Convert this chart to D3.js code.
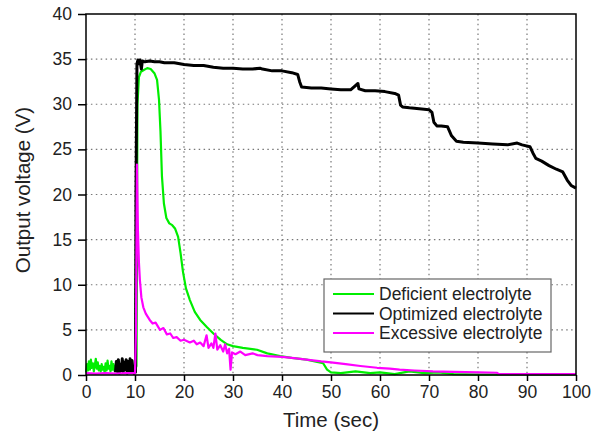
<!DOCTYPE html>
<html lang="en">
  <head>
    <meta charset="utf-8" />
    <title>Output voltage vs time</title>
    <script src="https://d3js.org/d3.v7.min.js"></script>
    <style>
      body { margin: 0; background: #fff; }
      .axis text { font-family: "Liberation Sans", Arial, sans-serif; font-size: 17.5px; fill: #222; }
      .axis path, .axis line { stroke: #000; stroke-width: 1.5px; }
      .grid line { stroke: #777; stroke-width: 1.2px; stroke-dasharray: 1.5,3.4; }
    </style>
  </head>
  <body>
    <script>
      // [time (sec), voltage (V)]
      const deficient = [
        [0,0.3],[0.2,1.2],[0.4,0.5],[0.6,1.5],[0.8,0.6],[1.0,1.7],[1.2,0.8],[1.4,1.3],[1.6,0.4],
        [1.8,1.1],[2.0,1.8],[2.2,0.7],[2.4,1.4],[2.6,0.5],[2.8,1.0],[3.0,0.4],[3.2,1.2],[3.4,0.6],
        [3.6,0.9],[3.8,0.3],[4.0,1.3],[4.2,0.5],[4.4,1.6],[4.6,0.7],[4.8,1.0],[5.0,0.4],[5.2,1.5],
        [5.4,0.6],[5.6,1.2],[5.8,0.5],[6.0,1.0],[6.2,0.4],[7,0.8],[8,1.0],[9,0.6],[10,0.5],
        [10.3,1.0],[10.5,30],[10.8,33.0],[11.2,33.6],[11.8,33.8],[12.5,34.0],[13.2,33.9],[14.0,33.4],
        [14.5,32.7],[14.9,30.5],[15.2,27],[15.5,22],[15.9,19],[16.4,17.4],[17.0,16.8],[17.6,16.6],
        [18.2,16.2],[18.8,15.3],[19.3,13.5],[19.8,11.4],[20.4,9.6],[21.2,8.3],[22.2,7.0],[23.3,6.1],
        [24.7,5.3],[26,4.6],[27.5,3.9],[28.8,3.4],[30,3.2],[32,3.0],[34.9,2.8],[37,2.4],[39.6,2.1],
        [42,1.9],[45,1.7],[48.4,1.3],[49.2,0.6],[50,0.3],[52,0.2],[55,0.4],[58,0.2],[60,0.3],
        [63,0.1],[66,0.4],[69,0.2],[72,0.3],[75,0.1],[80,0.05],[90,0.05],[100,0.05]
      ];
      const optimized = [
        [6.0,0.3],[6.2,1.5],[6.4,0.4],[6.6,1.7],[6.8,0.2],[7.0,1.2],[7.2,0.5],[7.4,1.8],[7.6,0.3],
        [7.8,1.4],[8.0,0.6],[8.2,1.7],[8.4,0.2],[8.6,1.5],[8.8,0.5],[9.0,1.8],[9.2,0.3],[9.4,1.6],
        [9.6,0.4],[9.8,0.2],[10.1,0.3],[10.2,20],[10.4,34.5],[10.6,34.9],[10.8,34.5],[11,34.9],
        [11.3,33.9],[11.5,34.8],[12,34.7],[13,34.8],[14,34.7],[15,34.7],[16,34.6],[18,34.6],
        [20,34.4],[22,34.3],[24,34.3],[26,34.1],[28,34.0],[30,34.0],[32,33.9],[34,33.9],[35.5,34.0],
        [36,33.9],[38,33.7],[40,33.7],[42,33.5],[43.2,33.3],[43.6,32.5],[44,31.9],[46,31.8],
        [48,31.8],[50,31.7],[52,31.6],[54,31.6],[55.5,32.3],[55.7,31.7],[57,31.5],[59,31.5],
        [61,31.4],[63,31.2],[63.8,31.0],[64.2,29.9],[64.6,29.7],[66,29.6],[68,29.5],[70,29.4],
        [70.6,29.1],[71.0,28.0],[71.6,27.6],[72.5,27.6],[73.8,27.5],[74.6,26.5],[75.6,25.9],
        [77,25.8],[80,25.7],[83,25.6],[86,25.5],[88,25.7],[89,25.5],[90.6,25.3],[91.2,24.6],
        [91.8,24.0],[93,23.7],[94.5,23.2],[96,22.8],[97.3,22.5],[98.2,21.6],[99,21.0],[100,20.7]
      ];
      const excessive = [
        [0,0.2],[2,0.15],[4,0.2],[6,0.15],[8,0.2],[10,0.2],[10.2,5],[10.4,23.3],[10.6,16],
        [10.8,12.5],[11.0,10.5],[11.3,8.6],[11.7,7.5],[12.2,6.8],[13,6.1],[13.6,5.7],[14.2,5.8],
        [15.1,5.0],[15.8,5.2],[16.5,4.5],[17.2,4.6],[17.8,4.1],[18.5,4.2],[19.3,3.8],[20,3.9],
        [21.2,3.6],[22,3.8],[22.6,3.4],[23.3,3.6],[24,3.2],[24.6,4.4],[25,3.0],[25.6,3.5],[26,3.0],
        [26.4,4.6],[26.8,2.8],[27.4,3.3],[28,2.6],[28.4,3.4],[28.8,2.4],[29.2,2.9],[29.5,0.6],
        [29.8,2.5],[30.5,2.3],[31.5,2.6],[32.5,2.2],[34,2.4],[35,2.2],[37,2.1],[40,2.0],[42,1.9],
        [45,1.7],[48,1.5],[50,1.4],[53,1.2],[56,1.0],[59.4,0.8],[62,0.7],[64,0.6],[67,0.5],
        [70.8,0.4],[75,0.35],[80,0.3],[83.9,0.25],[84.2,0.1],[90,0.1],[100,0.1]
      ];

      const seriesNames = ["Deficient electrolyte", "Optimized electrolyte", "Excessive electrolyte"];
      const seriesColors = ["#00ee00", "#000000", "#ff00ff"];
      const xTicks = [0, 10, 20, 30, 40, 50, 60, 70, 80, 90, 100];
      const yTicks = [0, 5, 10, 15, 20, 25, 30, 35, 40];

      const W = 605, H = 435;
      const plot = { left: 86, right: 576, top: 14, bottom: 375 };
      const font = "Liberation Sans, Arial, sans-serif";

      const svg = d3.select("body").append("svg")
        .attr("width", W).attr("height", H);

      const x = d3.scaleLinear().domain([0, 100]).range([plot.left, plot.right]);
      const y = d3.scaleLinear().domain([0, 40]).range([plot.bottom, plot.top]);

      // dotted grid
      const grid = svg.append("g").attr("class", "grid");
      grid.selectAll("line.v").data(xTicks.slice(1, -1)).join("line")
        .attr("class", "v")
        .attr("x1", d => x(d)).attr("x2", d => x(d))
        .attr("y1", plot.top).attr("y2", plot.bottom);
      grid.selectAll("line.h").data(yTicks.slice(1, -1)).join("line")
        .attr("class", "h")
        .attr("x1", plot.left).attr("x2", plot.right)
        .attr("y1", d => y(d)).attr("y2", d => y(d));

      // curves
      const line = d3.line().x(d => x(d[0])).y(d => y(d[1]));
      const allData = [deficient, optimized, excessive];
      const widths = [2.2, 3, 2.2];
      svg.append("g").selectAll("path").data(allData).join("path")
        .attr("d", line)
        .attr("fill", "none")
        .attr("stroke", (d, i) => seriesColors[i])
        .attr("stroke-width", (d, i) => widths[i])
        .attr("stroke-linejoin", "round");

      // frame
      svg.append("rect")
        .attr("x", plot.left).attr("y", plot.top)
        .attr("width", plot.right - plot.left).attr("height", plot.bottom - plot.top)
        .attr("fill", "none").attr("stroke", "#000").attr("stroke-width", 1.5);

      // axes
      svg.append("g").attr("class", "axis")
        .attr("transform", `translate(0,${plot.bottom})`)
        .call(d3.axisBottom(x).tickValues(xTicks).tickSize(6).tickPadding(5).tickSizeOuter(0))
        .call(g => g.select(".domain").remove());
      svg.append("g").attr("class", "axis")
        .attr("transform", `translate(${plot.left},0)`)
        .call(d3.axisLeft(y).tickValues(yTicks).tickSize(8).tickPadding(6).tickSizeOuter(0))
        .call(g => g.select(".domain").remove());

      // axis titles
      svg.append("text")
        .attr("x", (plot.left + plot.right) / 2).attr("y", 427)
        .attr("text-anchor", "middle")
        .style("font-family", font)
        .style("font-size", "20.5px").attr("fill", "#222")
        .text("Time (sec)");
      svg.append("text")
        .attr("transform", `translate(30,190) rotate(-90)`)
        .attr("text-anchor", "middle")
        .style("font-family", font)
        .style("font-size", "20.5px").attr("fill", "#222")
        .text("Output voltage (V)");

      // legend
      const legend = svg.append("g").attr("transform", "translate(324,279)");
      legend.append("rect")
        .attr("width", 227).attr("height", 73)
        .attr("fill", "#fff").attr("stroke", "#666").attr("stroke-width", 1.2);
      const items = legend.selectAll("g").data(seriesNames).join("g")
        .attr("transform", (d, i) => `translate(0,${15 + i * 19.5})`);
      items.append("line")
        .attr("x1", 9).attr("x2", 50).attr("y1", 0).attr("y2", 0)
        .attr("stroke", (d, i) => seriesColors[i]).attr("stroke-width", 2);
      items.append("text")
        .attr("x", 55).attr("dy", "0.35em")
        .style("font-family", font)
        .style("font-size", "17.5px").attr("fill", "#222")
        .text(d => d);
    </script>
  </body>
</html>
